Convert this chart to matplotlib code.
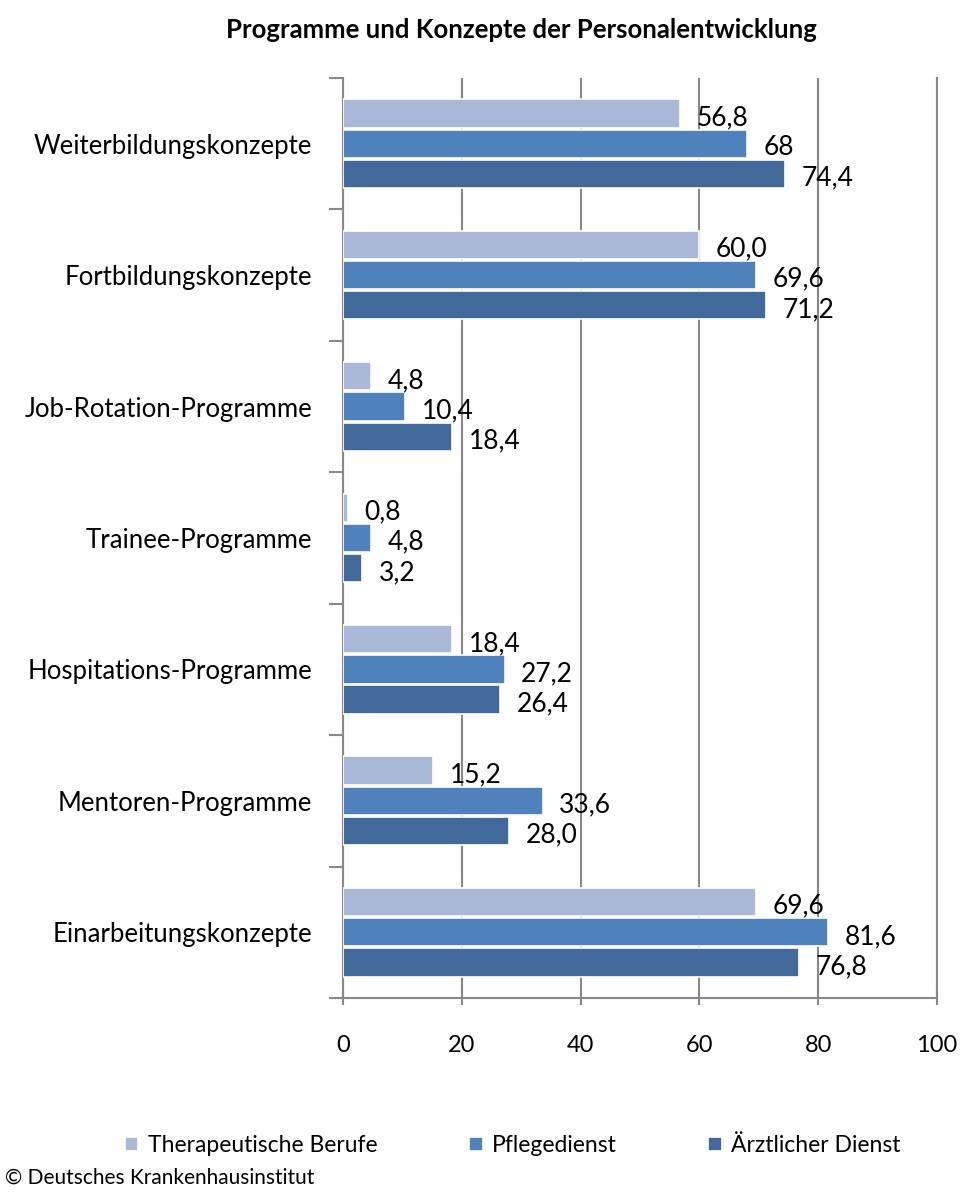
import numpy as np
import matplotlib.pyplot as plt
import matplotlib.patheffects as pe

plt.rcParams['font.family'] = ['Lato', 'DejaVu Sans']

categories = ['Weiterbildungskonzepte', 'Fortbildungskonzepte', 'Job-Rotation-Programme',
              'Trainee-Programme', 'Hospitations-Programme', 'Mentoren-Programme',
              'Einarbeitungskonzepte']
series_names = ['Therapeutische Berufe', 'Pflegedienst', 'Ärztlicher Dienst']
therapeutisch = [56.8, 60.0, 4.8, 0.8, 18.4, 15.2, 69.6]
pflege = [68, 69.6, 10.4, 4.8, 27.2, 33.6, 81.6]
aerztlich = [74.4, 71.2, 18.4, 3.2, 26.4, 28.0, 76.8]
labels_ther = ['56,8', '60,0', '4,8', '0,8', '18,4', '15,2', '69,6']
labels_pfl = ['68', '69,6', '10,4', '4,8', '27,2', '33,6', '81,6']
labels_aer = ['74,4', '71,2', '18,4', '3,2', '26,4', '28,0', '76,8']
colors = ['#AAB9D8', '#4F81BD', '#416A9B']

fig = plt.figure(figsize=(9.62, 11.92), dpi=100)
ax = fig.add_axes([0.3565, 0.1628, 0.6175, 0.7718])

y = np.arange(len(categories))
offsets = [-0.23, 0.0, 0.23]
shadow = [pe.SimplePatchShadow(offset=(3, -3), shadow_rgbFace='gray', alpha=0.45), pe.Normal()]
for vals, labs, off, col, name in zip([therapeutisch, pflege, aerztlich],
                                      [labels_ther, labels_pfl, labels_aer],
                                      offsets, colors, series_names):
    bars = ax.barh(y + off, vals, height=0.215, color=col, edgecolor='white',
                   linewidth=1.2, label=name, zorder=3)
    for b in bars:
        b.set_path_effects(shadow)
    for v, yy, t in zip(vals, y + off, labs):
        ax.annotate(t, (v, yy), xytext=(12, -3), textcoords='offset points',
                    ha='left', va='center', fontsize=19, color='black', zorder=4)

ax.set_xlim(0, 100)
ax.set_ylim(6.5, -0.5)
ax.set_xticks([0, 20, 40, 60, 80, 100])
ax.set_xticklabels(['0', '20', '40', '60', '80', '100'], fontsize=17)
ax.set_yticks(y)
ax.set_yticklabels(categories, fontsize=18.5)
ax.set_yticks(np.arange(-0.5, 7, 1), minor=True)
ax.tick_params(axis='y', which='major', length=0, pad=22)
ax.tick_params(axis='y', which='minor', length=10, width=1.5, color='#888888', direction='out')
ax.tick_params(axis='x', length=10, width=1.5, color='#888888', direction='inout', pad=22)

ax.grid(axis='x', color='#888888', linewidth=1.5, zorder=0)
ax.spines['top'].set_visible(False)
for s in ['left', 'bottom', 'right']:
    ax.spines[s].set_color('#888888')
    ax.spines[s].set_linewidth(1.5)

fig.text(0.542, 0.975, 'Programme und Konzepte der Personalentwicklung',
         ha='center', va='center', fontsize=18.5, fontweight='bold')

handles, leg_labels = ax.get_legend_handles_labels()
for h in handles:
    for p in h.patches:
        p.set_path_effects([])
leg = fig.legend(handles, leg_labels, loc='center', bbox_to_anchor=(0.533, 0.039), ncol=3,
                 frameon=False, fontsize=16.5, handlelength=0.6, handleheight=0.6,
                 handletextpad=0.4, columnspacing=4.0)

fig.text(0.005, 0.012, '© Deutsches Krankenhausinstitut', ha='left', va='center', fontsize=15)

fig.savefig('out.png', dpi=100)
